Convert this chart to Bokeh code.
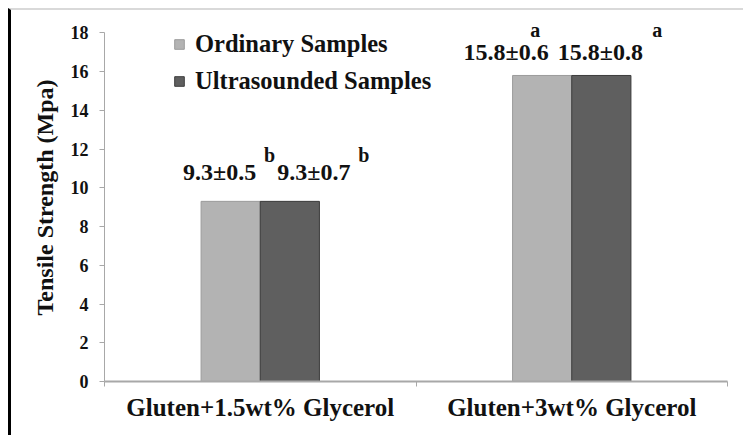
from bokeh.plotting import figure
from bokeh.models import ColumnDataSource, FixedTicker, Legend, LegendItem, Range1d, LabelSet
from bokeh.embed import file_html
from bokeh.resources import INLINE

# ---- data ----
categories = ["Gluten+1.5wt% Glycerol", "Gluten+3wt% Glycerol"]
series = ["Ordinary Samples", "Ultrasounded Samples"]
ordinary = [9.3, 15.8]
ordinary_err = [0.5, 0.6]
ordinary_letters = ["b", "a"]
ultrasounded = [9.3, 15.8]
ultrasounded_err = [0.7, 0.8]
ultrasounded_letters = ["b", "a"]
y_ticks = [0, 2, 4, 6, 8, 10, 12, 14, 16, 18]
y_axis_max = 18

# ---- styles ----
SERIF = "'Liberation Serif', 'Times New Roman', serif"
SANS = "'Liberation Sans', Arial, sans-serif"
LIGHT, LIGHT_LINE = "#b3b3b3", "#9c9c9c"
DARK, DARK_LINE = "#5f5f5f", "#3c3c3c"
AXIS_GRAY = "#a8a8a8"
BAR_W = 0.19
HEADROOM = 1.0  # extra frame space above the axis top so labels are not clipped
# label offsets in screen px (positive dy = up)
val_dx = {"o": [-11, -36], "u": [24, -1]}
val_dy = {"o": [29, 23], "u": [29, 23]}
let_dx = {"o": [39, -7], "u": [74, 56]}
let_dy = {"o": [46, 45], "u": [46, 45]}

n = len(categories)
xc = [i + 0.5 for i in range(n)]
xo = [c - BAR_W / 2 for c in xc]
xu = [c + BAR_W / 2 for c in xc]

p = figure(width=735, height=427, x_range=Range1d(0, n), y_range=Range1d(0, y_axis_max + HEADROOM),
           output_backend="svg", toolbar_location=None,
           min_border_left=93, min_border_right=19, min_border_top=3, min_border_bottom=56)
p.styles = {"border-left": "3px solid #000000", "border-top": "2px solid #d9d9d9",
            "margin-left": "8px", "margin-top": "8px"}
p.outline_line_color = None
p.xgrid.grid_line_color = None
p.ygrid.grid_line_color = None
p.background_fill_color = "white"
p.border_fill_color = "white"

src_o = ColumnDataSource(dict(x=xo, top=ordinary))
src_u = ColumnDataSource(dict(x=xu, top=ultrasounded))
r_o = p.vbar(x="x", top="top", width=BAR_W, source=src_o, fill_color=LIGHT, line_color=LIGHT_LINE, line_width=1)
r_u = p.vbar(x="x", top="top", width=BAR_W, source=src_u, fill_color=DARK, line_color=DARK_LINE, line_width=1)

# value labels and significance letters
for key, xs, vals, errs, lets in (("o", xo, ordinary, ordinary_err, ordinary_letters),
                                   ("u", xu, ultrasounded, ultrasounded_err, ultrasounded_letters)):
    s = ColumnDataSource(dict(x=xs, y=vals, t=[f"{v}\u00b1{e}" for v, e in zip(vals, errs)],
                              dx=val_dx[key], dy=val_dy[key]))
    p.add_layout(LabelSet(x="x", y="y", text="t", x_offset="dx", y_offset="dy", source=s,
                          text_align="center", text_baseline="middle", text_font_size="24px",
                          text_font=SERIF, text_font_style="bold", text_color="#111111"))
    s2 = ColumnDataSource(dict(x=xs, y=vals, t=lets, dx=let_dx[key], dy=let_dy[key]))
    p.add_layout(LabelSet(x="x", y="y", text="t", x_offset="dx", y_offset="dy", source=s2,
                          text_align="center", text_baseline="middle", text_font_size="20px",
                          text_font=SANS, text_font_style="bold", text_color="#111111"))

# x axis
xax = p.xaxis[0]
xax.ticker = FixedTicker(ticks=xc, minor_ticks=list(range(n + 1)))
xax.major_label_overrides = {c: lab for c, lab in zip(xc, categories)}
xax.major_tick_out = 0
xax.major_tick_in = 0
xax.minor_tick_out = 5
xax.minor_tick_in = 0
xax.minor_tick_line_color = AXIS_GRAY
xax.axis_line_color = AXIS_GRAY
xax.axis_line_width = 2
xax.major_label_text_font = SERIF
xax.major_label_text_font_style = "bold"
xax.major_label_text_font_size = "25px"
xax.major_label_text_color = "#111111"
xax.major_label_standoff = 7

# y axis
yax = p.yaxis[0]
yax.ticker = FixedTicker(ticks=y_ticks)
yax.bounds = (0, y_axis_max)
yax.minor_tick_line_color = None
yax.major_tick_out = 5
yax.major_tick_in = 0
yax.major_tick_line_color = AXIS_GRAY
yax.axis_line_color = AXIS_GRAY
yax.axis_line_width = 1
yax.major_label_text_font = SERIF
yax.major_label_text_font_style = "bold"
yax.major_label_text_font_size = "18px"
yax.major_label_text_color = "#111111"
yax.major_label_standoff = 11
yax.axis_label = "Tensile Strength (Mpa)"
yax.axis_label_text_font = SERIF
yax.axis_label_text_font_style = "bold"
yax.axis_label_text_font_size = "24px"
yax.axis_label_text_color = "#111111"
yax.axis_label_standoff = 10

legend = Legend(items=[LegendItem(label=series[0], renderers=[r_o]),
                       LegendItem(label=series[1], renderers=[r_u])],
                location=(69, 286))
legend.label_text_font = SERIF
legend.label_text_font_style = "bold"
legend.label_text_font_size = "24.5px"
legend.label_text_color = "#111111"
legend.glyph_width = 12
legend.glyph_height = 12
legend.label_standoff = 10
legend.spacing = 9
legend.padding = 0
legend.margin = 0
legend.border_line_color = None
legend.background_fill_alpha = 0
p.add_layout(legend)

open("out.html", "w").write(file_html(p, INLINE))
